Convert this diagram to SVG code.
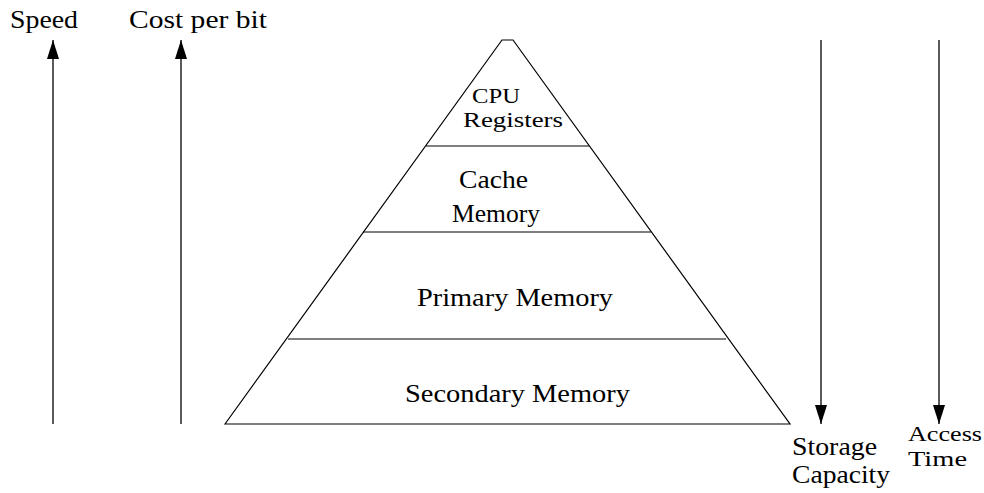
<svg xmlns="http://www.w3.org/2000/svg" width="984" height="493" viewBox="0 0 984 493" font-family="'Liberation Serif', 'DejaVu Serif', 'Times New Roman', serif">
<style>
text{font-family:'Liberation Serif','DejaVu Serif','Times New Roman',serif;font-size:25px;fill:#000}
.sm{font-size:22px}
.ln{stroke:#000;stroke-width:1.2;fill:none}
.ar{stroke:#000;stroke-width:1.3;fill:none}
</style>
<defs>
<marker id="ah2" viewBox="0 0 19 12" refX="19" refY="6" markerWidth="19" markerHeight="12" markerUnits="userSpaceOnUse" orient="auto">
<path d="M0,0 L19,6 L0,12 Z" fill="#000"/>
</marker>
</defs>
<g id="pyramid">
<path class="ln" d="M225,424 L502,40 L513,40 L790,424 Z"/>
<line class="ln" x1="426" y1="146" x2="589" y2="146"/>
<line class="ln" x1="363" y1="232" x2="651" y2="232"/>
<line class="ln" x1="288" y1="339" x2="726" y2="339"/>
</g>
<g id="cpu"><text class="sm" x="472" y="103" textLength="48" lengthAdjust="spacingAndGlyphs">CPU</text><text class="sm" x="463" y="127" textLength="100" lengthAdjust="spacingAndGlyphs">Registers</text></g>
<g id="cache"><text x="459" y="188" textLength="69" lengthAdjust="spacingAndGlyphs">Cache</text><text x="452" y="222" textLength="88" lengthAdjust="spacingAndGlyphs">Memory</text></g>
<g id="primary"><text x="417" y="306" textLength="196" lengthAdjust="spacingAndGlyphs">Primary Memory</text></g>
<g id="secondary"><text x="405" y="402" textLength="225" lengthAdjust="spacingAndGlyphs">Secondary Memory</text></g>
<g id="connectors">
<line class="ar" x1="53" y1="424" x2="53" y2="40" marker-end="url(#ah2)"/>
<line class="ar" x1="181" y1="424" x2="181" y2="40" marker-end="url(#ah2)"/>
<line class="ar" x1="821" y1="40" x2="821" y2="424" marker-end="url(#ah2)"/>
<line class="ar" x1="939" y1="40" x2="939" y2="424" marker-end="url(#ah2)"/>
</g>
<g id="speed"><text x="10" y="28" textLength="68" lengthAdjust="spacingAndGlyphs">Speed</text></g>
<g id="cost"><text x="129" y="28" textLength="138" lengthAdjust="spacingAndGlyphs">Cost per bit</text></g>
<g id="storage"><text x="792" y="455" textLength="85" lengthAdjust="spacingAndGlyphs">Storage</text><text x="792" y="483" textLength="98" lengthAdjust="spacingAndGlyphs">Capacity</text></g>
<g id="access"><text class="sm" x="908" y="441" textLength="74" lengthAdjust="spacingAndGlyphs">Access</text><text class="sm" x="908" y="466" textLength="59" lengthAdjust="spacingAndGlyphs">Time</text></g>
</svg>
